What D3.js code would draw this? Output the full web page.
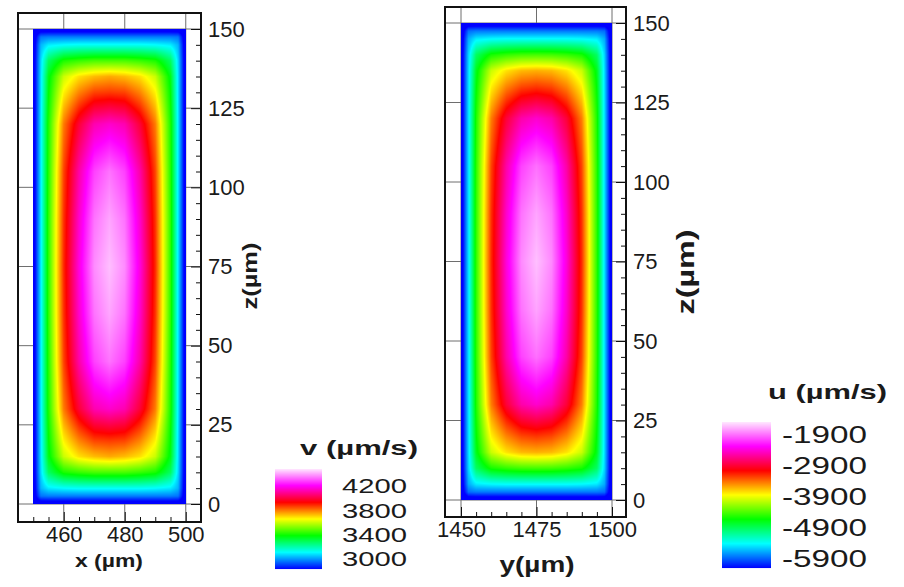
<!DOCTYPE html>
<html>
<head>
<meta charset="utf-8">
<script src="https://cdn.jsdelivr.net/npm/d3@7"></script>
<style>
  body { margin: 0; background: #fff; }
  svg { display: block; font-family: "Liberation Sans", Arial, sans-serif; }
</style>
</head>
<body>
<svg id="chart" width="904" height="587"></svg>
<script>
// quarter of each cross-section (the field is symmetric)
// columns: distance from the side wall (um), rows: distance from top/bottom wall (um)
var sideDist = [0, 2.5, 5, 10, 15, 20, 25];
var endDist = [0, 2.5, 5, 10, 15, 20, 30, 45, 60, 75];

var vField = [
  [2760, 2760, 2760, 2760, 2760, 2760, 2760],
  [2760, 2960, 2970, 2970, 2970, 2970, 2970],
  [2760, 3030, 3090, 3110, 3120, 3120, 3120],
  [2760, 3070, 3280, 3410, 3440, 3460, 3460],
  [2760, 3080, 3360, 3600, 3690, 3730, 3750],
  [2760, 3080, 3380, 3670, 3790, 3860, 3870],
  [2760, 3090, 3410, 3800, 3990, 4120, 4150],
  [2760, 3090, 3420, 3860, 4110, 4280, 4340],
  [2760, 3090, 3430, 3880, 4150, 4340, 4400],
  [2760, 3090, 3430, 3890, 4170, 4370, 4430]
];

var uField = [
  [-6430, -6430, -6430, -6430, -6430, -6430, -6430],
  [-6430, -5860, -5820, -5820, -5820, -5820, -5820],
  [-6430, -5660, -5460, -5410, -5390, -5390, -5390],
  [-6430, -5530, -4920, -4560, -4470, -4420, -4410],
  [-6430, -5500, -4700, -4000, -3750, -3620, -3590],
  [-6430, -5490, -4640, -3800, -3460, -3270, -3220],
  [-6430, -5480, -4550, -3440, -2880, -2530, -2420],
  [-6430, -5480, -4510, -3260, -2540, -2050, -1890],
  [-6430, -5480, -4500, -3200, -2430, -1880, -1710],
  [-6430, -5480, -4500, -3180, -2380, -1800, -1620]
];

var xTicks = [460, 480, 500];
var yTicks = [1450, 1475, 1500];
var zTicks = [0, 25, 50, 75, 100, 125, 150];
var minorStep = 5;

var vLegendTicks = [3000, 3400, 3800, 4200];
var uLegendTicks = [-5900, -4900, -3900, -2900, -1900];

var rainbow = ["#0000ff", "#00ffff", "#00ff00", "#ffff00", "#ff0000", "#ff00ff", "#ffe8ff"];

var plain = function(d) { return String(d); };   // hyphen minus, no thousands comma

var svg = d3.select("#chart");
svg.append("rect").attr("width", 904).attr("height", 587).attr("fill", "#fff");

function makeColor(lo, hi) {
  return d3.scaleLinear()
    .domain(rainbow.map(function(c, i) { return lo + (hi - lo) * i / (rainbow.length - 1); }))
    .range(rainbow)
    .clamp(true);
}

function drawPanel(p) {
  var g = svg.append("g");
  var hs = p.hScale, zs = p.zScale;

  // grid lines under the flood
  g.selectAll(".vgrid").data(p.hTicks).enter().append("line")
    .attr("x1", function(d) { return hs(d); }).attr("x2", function(d) { return hs(d); })
    .attr("y1", p.frame.y0).attr("y2", p.frame.y1)
    .attr("stroke", "#6e6e6e").attr("stroke-width", 1);
  g.selectAll(".hgrid").data(zTicks).enter().append("line")
    .attr("y1", function(d) { return zs(d); }).attr("y2", function(d) { return zs(d); })
    .attr("x1", p.frame.x0).attr("x2", p.frame.x1)
    .attr("stroke", "#6e6e6e").attr("stroke-width", 1);

  // flood of the field
  var lo = p.hDomain[0], hi = p.hDomain[1];
  var px0 = Math.round(hs(lo)), px1 = Math.round(hs(hi));
  var py0 = Math.round(zs(150)), py1 = Math.round(zs(0));
  var w = px1 - px0, h = py1 - py0;
  var rows = p.field.map(function(r) {
    return d3.scaleLinear().domain(sideDist).range(r).clamp(true);
  });
  var canvas = document.createElement("canvas");
  canvas.width = w; canvas.height = h;
  var ctx = canvas.getContext("2d");
  var img = ctx.createImageData(w, h);
  for (var i = 0; i < w; i++) {
    var xv = hs.invert(px0 + i + 0.5);
    var d = Math.min(xv - lo, hi - xv);
    var col = d3.scaleLinear().domain(endDist)
      .range(rows.map(function(s) { return s(d); })).clamp(true);
    for (var j = 0; j < h; j++) {
      var zv = zs.invert(py0 + j + 0.5);
      var e = Math.min(zv, 150 - zv);
      var c = d3.rgb(p.color(col(e)));
      var k = (j * w + i) * 4;
      img.data[k] = c.r; img.data[k + 1] = c.g; img.data[k + 2] = c.b; img.data[k + 3] = 255;
    }
  }
  ctx.putImageData(img, 0, 0);
  g.append("image")
    .attr("href", canvas.toDataURL())
    .attr("x", px0).attr("y", py0)
    .attr("width", w).attr("height", h)
    .attr("preserveAspectRatio", "none");

  // frame
  g.append("rect")
    .attr("x", p.frame.x0).attr("y", p.frame.y0)
    .attr("width", p.frame.x1 - p.frame.x0).attr("height", p.frame.y1 - p.frame.y0)
    .attr("fill", "none").attr("stroke", "#111").attr("stroke-width", 2);

  // right z axis
  var zMinor = d3.range(0, 151, minorStep).filter(function(v) { return v % 25; });
  var zAxis = g.append("g").attr("transform", "translate(" + p.frame.x1 + ",0)")
    .call(d3.axisRight(zs).tickValues(zTicks).tickSize(-10).tickPadding(7).tickFormat(plain));
  g.append("g").attr("transform", "translate(" + p.frame.x1 + ",0)")
    .call(d3.axisRight(zs).tickValues(zMinor).tickSize(-5).tickFormat(""))
    .select(".domain").remove();
  zAxis.select(".domain").remove();

  // bottom axis
  var hMinor = d3.range(p.hTicks[0] - 10, p.hTicks[p.hTicks.length - 1] + 1, minorStep)
    .filter(function(v) { return p.hTicks.indexOf(v) < 0 && v >= lo; });
  var hAxis = g.append("g").attr("transform", "translate(0," + p.frame.y1 + ")")
    .call(d3.axisBottom(hs).tickValues(p.hTicks).tickSize(-10).tickPadding(4).tickFormat(plain));
  g.append("g").attr("transform", "translate(0," + p.frame.y1 + ")")
    .call(d3.axisBottom(hs).tickValues(hMinor).tickSize(-5).tickFormat(""))
    .select(".domain").remove();
  hAxis.select(".domain").remove();

  g.selectAll(".tick line").attr("stroke", "#111");
  zAxis.selectAll("text").attr("font-size", p.tickFont).attr("fill", "#1a1a1a")
    .attr("font-family", "Liberation Sans, Arial, sans-serif");
  hAxis.selectAll("text").attr("font-size", p.tickFont).attr("fill", "#1a1a1a")
    .attr("font-family", "Liberation Sans, Arial, sans-serif");

  // axis titles
  g.append("text")
    .attr("x", p.hTitle.x).attr("y", p.hTitle.y)
    .attr("text-anchor", "middle").attr("font-weight", "bold")
    .attr("font-size", p.hTitle.size).attr("fill", "#1a1a1a")
    .attr("textLength", p.hTitle.len).attr("lengthAdjust", "spacingAndGlyphs")
    .text(p.hTitle.text);
  g.append("text")
    .attr("transform", "translate(" + p.zTitle.x + "," + p.zTitle.y + ") rotate(-90)")
    .attr("text-anchor", "middle").attr("font-weight", "bold")
    .attr("font-size", p.zTitle.size).attr("fill", "#1a1a1a")
    .attr("textLength", p.zTitle.len).attr("lengthAdjust", "spacingAndGlyphs")
    .text("z(\u00b5m)");
}

function drawLegend(l) {
  var g = svg.append("g");
  var ls = l.scale;
  var rowsY = d3.range(l.bar.y0, l.bar.y1);
  g.selectAll("rect").data(rowsY).enter().append("rect")
    .attr("x", l.bar.x0).attr("y", function(d) { return d; })
    .attr("width", l.bar.x1 - l.bar.x0).attr("height", 1.05)
    .attr("fill", function(d) { return l.color(ls.invert(d + 0.5)); });
  var ax = g.append("g").attr("transform", "translate(" + l.labelX + ",0)")
    .call(d3.axisRight(ls).tickValues(l.ticks).tickSize(0).tickPadding(0).tickFormat(plain));
  ax.select(".domain").remove();
  ax.selectAll("text")
    .attr("font-size", l.labelFont).attr("fill", "#1a1a1a")
    .attr("font-family", "Liberation Sans, Arial, sans-serif")
    .attr("textLength", l.labelLen).attr("lengthAdjust", "spacingAndGlyphs");
  g.append("text")
    .attr("x", l.title.x).attr("y", l.title.y)
    .attr("font-weight", "bold").attr("font-size", l.title.size).attr("fill", "#1a1a1a")
    .attr("textLength", l.title.len).attr("lengthAdjust", "spacingAndGlyphs")
    .text(l.title.text);
}

// legends first: their scales fix the colour range of each flood
var vScale = d3.scaleLinear().domain([3000, 4200]).range([559, 486]);
var vBar = {x0: 275, x1: 322, y0: 469, y1: 569};
var vColor = makeColor(vScale.invert(vBar.y1), vScale.invert(vBar.y0));

var uScale = d3.scaleLinear().domain([-5900, -1900]).range([559, 435]);
var uBar = {x0: 722, x1: 771, y0: 422, y1: 568};
var uColor = makeColor(uScale.invert(uBar.y1), uScale.invert(uBar.y0));

drawPanel({
  hScale: d3.scaleLinear().domain([445, 505]).range([18, 201]),
  zScale: d3.scaleLinear().domain([0, 150]).range([504, 29]),
  hDomain: [450, 500],
  hTicks: xTicks,
  field: vField,
  color: vColor,
  frame: {x0: 18, x1: 201, y0: 13, y1: 522},
  tickFont: 22,
  hTitle: {text: "x (\u00b5m)", x: 109, y: 567, size: 19, len: 68},
  zTitle: {x: 257, y: 276, size: 20, len: 67}
});

drawPanel({
  hScale: d3.scaleLinear().domain([1450, 1500]).range([461, 612]),
  zScale: d3.scaleLinear().domain([0, 150]).range([500, 23]),
  hDomain: [1450, 1500],
  hTicks: yTicks,
  field: uField,
  color: uColor,
  frame: {x0: 445, x1: 626, y0: 7, y1: 517},
  tickFont: 22,
  hTitle: {text: "y(\u00b5m)", x: 537, y: 572, size: 22, len: 75},
  zTitle: {x: 694, y: 272, size: 23, len: 85}
});

drawLegend({
  scale: vScale, bar: vBar, color: vColor, ticks: vLegendTicks,
  labelX: 342, labelFont: 21, labelLen: 65,
  title: {text: "v (\u00b5m/s)", x: 300, y: 455, size: 20, len: 118}
});

drawLegend({
  scale: uScale, bar: uBar, color: uColor, ticks: uLegendTicks,
  labelX: 782, labelFont: 23, labelLen: 85,
  title: {text: "u (\u00b5m/s)", x: 768, y: 399, size: 21, len: 119}
});
</script>
</body>
</html>
